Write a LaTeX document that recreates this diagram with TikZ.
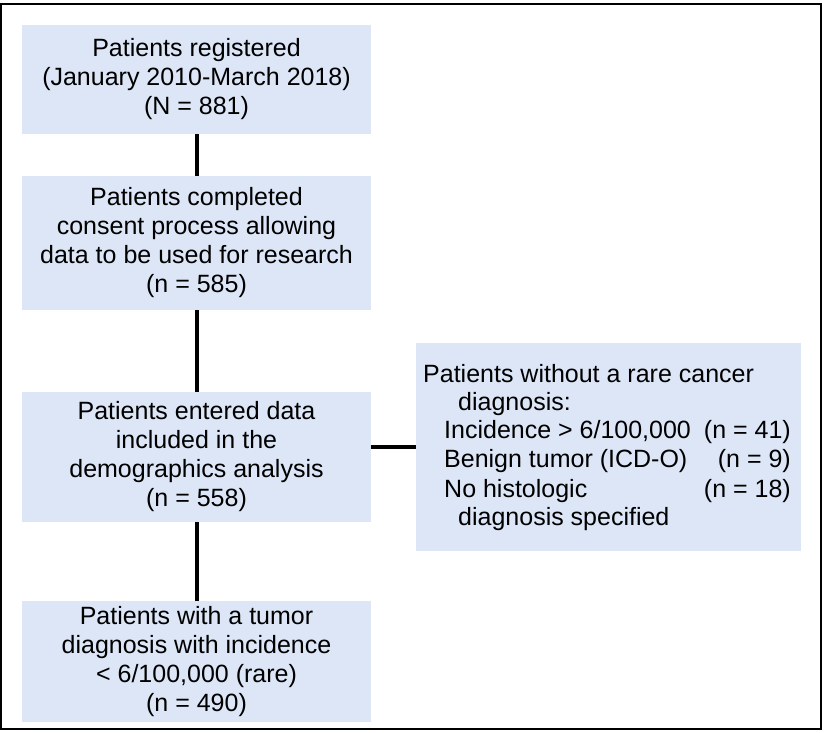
\documentclass[tikz,border=0pt]{standalone}
\usepackage{fontspec}
\setmainfont{Liberation Sans}
\definecolor{boxfill}{RGB}{220,230,246}
\begin{document}
\begin{tikzpicture}[x=1pt,y=-1pt,
  box/.style={fill=boxfill, draw=none, inner sep=0pt, align=center,
    font=\fontsize{25}{29}\selectfont},
  rtext/.style={inner sep=0pt, font=\fontsize{25}{29}\selectfont},
  link/.style={line width=4pt, black}]
\useasboundingbox (0,0) rectangle (826,732);
\draw[line width=2pt] (1,4) rectangle (821,729);
\node[box, minimum width=349pt, minimum height=109pt] (b1) at (196.5,79.5)
  {Patients registered\\(January 2010-March 2018)\\(N = 881)};
\node[box, minimum width=349pt, minimum height=134pt] (b2) at (196.5,243)
  {Patients completed\\consent process allowing\\data to be used for research\\(n = 585)};
\node[box, minimum width=349pt, minimum height=130pt] (b3) at (196.5,457)
  {Patients entered data\\included in the\\demographics analysis\\(n = 558)};
\node[box, minimum width=349pt, minimum height=121pt] (b4) at (196.5,661.5)
  {Patients with a tumor\\diagnosis with incidence\\< 6/100,000 (rare)\\(n = 490)};
\node[box, minimum width=385pt, minimum height=208pt] (r) at (608.5,447) {};
\node[rtext, anchor=base west] (r1) at (423,382) {Patients without a rare cancer};
\node[rtext, anchor=base west] (r2) at (458,410) {diagnosis:};
\node[rtext, anchor=base west] (r3) at (444,438) {Incidence > 6/100,000};
\node[rtext, anchor=base east] (r3n) at (791,438) {(n = 41)};
\node[rtext, anchor=base west] (r4) at (444,467) {Benign tumor (ICD-O)};
\node[rtext, anchor=base east] (r4n) at (791,467) {(n = 9)};
\node[rtext, anchor=base west] (r5) at (444,497) {No histologic};
\node[rtext, anchor=base east] (r5n) at (791,497) {(n = 18)};
\node[rtext, anchor=base west] (r6) at (458,525) {diagnosis specified};
\draw[link] (b1.south) -- (b2.north);
\draw[link] (b2.south) -- (b3.north);
\draw[link] (b3.south) -- (b4.north);
\draw[link] (r.west -| b3.east) -- (r.west);
\end{tikzpicture}
\end{document}
